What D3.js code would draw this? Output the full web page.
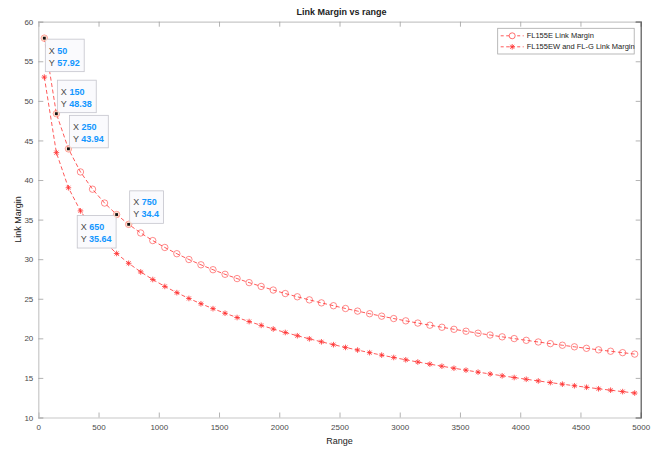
<!DOCTYPE html>
<html>
<head>
<meta charset="utf-8">
<script src="https://cdn.jsdelivr.net/npm/d3@7"></script>
<style>
  body { margin: 0; background: #fff; }
  svg { display: block; font-family: 'Liberation Sans', Arial, sans-serif; }
</style>
</head>
<body>
<svg></svg>
<script>
const SVG_WIDTH = 657;
const SVG_HEIGHT = 449;

// Range values (x) shared by both series.
const ranges = [
  50, 150, 250, 350, 450, 550, 650, 750, 850, 950,
  1050, 1150, 1250, 1350, 1450, 1550, 1650, 1750, 1850, 1950,
  2050, 2150, 2250, 2350, 2450, 2550, 2650, 2750, 2850, 2950,
  3050, 3150, 3250, 3350, 3450, 3550, 3650, 3750, 3850, 3950,
  4050, 4150, 4250, 4350, 4450, 4550, 4650, 4750, 4850, 4950
];

const fl155e = [
  57.92, 48.38, 43.94, 41.02, 38.84, 37.09, 35.64, 34.4, 33.31, 32.35,
  31.48, 30.69, 29.96, 29.29, 28.67, 28.09, 27.55, 27.04, 26.56, 26.10,
  25.66, 25.25, 24.86, 24.48, 24.12, 23.77, 23.44, 23.11, 22.80, 22.50,
  22.21, 21.93, 21.66, 21.40, 21.14, 20.90, 20.65, 20.42, 20.19, 19.97,
  19.75, 19.54, 19.33, 19.13, 18.93, 18.74, 18.55, 18.37, 18.19, 18.01
];

const fl155ewG = [
  53.00, 43.46, 39.02, 36.10, 33.92, 32.17, 30.72, 29.48, 28.39, 27.43,
  26.56, 25.77, 25.04, 24.37, 23.75, 23.17, 22.63, 22.12, 21.64, 21.18,
  20.74, 20.33, 19.94, 19.56, 19.20, 18.85, 18.52, 18.19, 17.88, 17.58,
  17.29, 17.01, 16.74, 16.48, 16.22, 15.98, 15.73, 15.50, 15.27, 15.05,
  14.83, 14.62, 14.41, 14.21, 14.01, 13.82, 13.63, 13.45, 13.27, 13.09
];

const seriesNames = ['FL155E Link Margin', 'FL155EW and FL-G Link Margin'];

const xTicks = [0, 500, 1000, 1500, 2000, 2500, 3000, 3500, 4000, 4500, 5000];
const yTicks = [10, 15, 20, 25, 30, 35, 40, 45, 50, 55, 60];

// Data tips shown on the FL155E curve.
const tipRanges = [50, 150, 250, 650, 750];

const margin = {top: 21.7, right: 16.3, bottom: 31.5, left: 38.3};
const innerW = SVG_WIDTH - margin.left - margin.right;
const innerH = SVG_HEIGHT - margin.top - margin.bottom;

const RED = '#ff3030';
const AXIS = '#c8c8c8';
const TEXT = '#4a4a4a';

const svg = d3
  .select('svg')
  .attr('width', SVG_WIDTH)
  .attr('height', SVG_HEIGHT)
  .attr('viewBox', `0 0 ${SVG_WIDTH} ${SVG_HEIGHT}`);

const x = d3.scaleLinear().domain([0, 5000]).range([margin.left, margin.left + innerW]);
const y = d3.scaleLinear().domain([10, 60]).range([margin.top + innerH, margin.top]);

// Axes: ticks point inward like MATLAB.
const bottomAxis = svg.append('g')
  .attr('transform', `translate(0,${y(10)})`)
  .call(d3.axisBottom(x).tickValues(xTicks).tickSize(-5).tickPadding(7).tickFormat(d3.format('d')));
const topAxis = svg.append('g')
  .attr('transform', `translate(0,${y(60)})`)
  .call(d3.axisTop(x).tickValues(xTicks).tickSize(-5).tickFormat(''));
const leftAxis = svg.append('g')
  .attr('transform', `translate(${x(0)},0)`)
  .call(d3.axisLeft(y).tickValues(yTicks).tickSize(-5).tickPadding(5));
const rightAxis = svg.append('g')
  .attr('transform', `translate(${x(5000)},0)`)
  .call(d3.axisRight(y).tickValues(yTicks).tickSize(-5).tickFormat(''));

[bottomAxis, topAxis, leftAxis, rightAxis].forEach(g => {
  g.select('.domain').attr('stroke', AXIS).attr('stroke-width', 1.2);
  g.selectAll('.tick line').attr('stroke', '#a0a0a0').attr('stroke-width', 0.8);
  g.selectAll('.tick text').attr('fill', TEXT).style('font-size', '8px');
});
rightAxis.select('.domain').attr('stroke', '#555');

// Titles.
svg.append('text')
  .attr('x', (x(0) + x(5000)) / 2 + 2)
  .attr('y', 15)
  .attr('text-anchor', 'middle')
  .style('font-size', '9px')
  .style('font-weight', 'bold')
  .attr('fill', '#222')
  .text('Link Margin vs range');

svg.append('text')
  .attr('x', (x(0) + x(5000)) / 2)
  .attr('y', 444)
  .attr('text-anchor', 'middle')
  .style('font-size', '9px')
  .attr('fill', '#222')
  .text('Range');

svg.append('text')
  .attr('transform', `translate(18,${(y(10) + y(60)) / 2}) rotate(-90)`)
  .attr('text-anchor', 'middle')
  .attr('dy', '0.35em')
  .style('font-size', '9px')
  .attr('fill', '#222')
  .text('Link Margin');

const starPath = s => {
  const d = s * 0.72;
  return `M0,${-s}L0,${s}M${-s},0L${s},0M${-d},${-d}L${d},${d}M${-d},${d}L${d},${-d}`;
};

const line = d3.line().x(d => x(d[0])).y(d => y(d[1]));
const plot = svg.append('g');

function drawSeries(values, marker) {
  const pts = ranges.map((r, i) => [r, values[i]]);
  plot.append('path')
    .datum(pts)
    .attr('d', line)
    .attr('fill', 'none')
    .attr('stroke', RED)
    .attr('stroke-width', 0.8)
    .attr('stroke-dasharray', '4,2.5');
  const g = plot.append('g');
  if (marker === 'circle') {
    g.selectAll('circle')
      .data(pts)
      .join('circle')
      .attr('cx', d => x(d[0]))
      .attr('cy', d => y(d[1]))
      .attr('r', 3.2)
      .attr('fill', 'none')
      .attr('stroke', RED)
      .attr('stroke-opacity', 0.8)
      .attr('stroke-width', 0.7);
  } else {
    g.selectAll('path')
      .data(pts)
      .join('path')
      .attr('transform', d => `translate(${x(d[0])},${y(d[1])})`)
      .attr('d', starPath(2.8))
      .attr('stroke', RED)
      .attr('stroke-width', 0.8);
  }
}

drawSeries(fl155e, 'circle');
drawSeries(fl155ewG, 'star');

// Legend.
const legend = svg.append('g').attr('transform', 'translate(497.7,28.3)');
legend.append('rect')
  .attr('width', 136.5)
  .attr('height', 25.7)
  .attr('fill', '#fff')
  .attr('stroke', '#a8a8a8')
  .attr('stroke-width', 0.8);
seriesNames.forEach((name, i) => {
  const row = legend.append('g').attr('transform', `translate(0,${7.5 + i * 11})`);
  row.append('line')
    .attr('x1', 3).attr('x2', 26)
    .attr('stroke', RED).attr('stroke-width', 0.8)
    .attr('stroke-dasharray', '3,2.5');
  if (i === 0) {
    row.append('circle').attr('cx', 14.5).attr('r', 3)
      .attr('fill', '#fff').attr('stroke', RED).attr('stroke-width', 0.7);
  } else {
    row.append('path').attr('transform', 'translate(14.5,0)')
      .attr('d', starPath(2.8)).attr('stroke', RED).attr('stroke-width', 0.8);
  }
  row.append('text')
    .attr('x', 29)
    .attr('dy', '0.35em')
    .style('font-size', '7.5px')
    .attr('fill', '#222')
    .text(name);
});

// Data tips: side placement per tip (dx, dy sign).
const tipPlacement = {50: [1, 1], 150: [1, -1], 250: [1, -1], 650: [-1, 1], 750: [1, -1]};
const tips = svg.append('g');
tipRanges.forEach(r => {
  const v = fl155e[ranges.indexOf(r)];
  const px = x(r);
  const py = y(v);
  const [sx, sy] = tipPlacement[r];
  const g = tips.append('g');
  const box = g.append('rect')
    .attr('fill', '#fafafd')
    .attr('stroke', '#c4c4cc')
    .attr('stroke-width', 0.8);
  const rows = [['X', String(r)], ['Y', String(v)]];
  const texts = rows.map(([k, val], i) => {
    const t = g.append('text')
      .attr('y', 14.5 + i * 12)
      .style('font-size', '9px');
    t.append('tspan').attr('fill', TEXT).text(k + ' ');
    t.append('tspan').attr('fill', '#1296ff').style('font-weight', 'bold').text(val);
    return t;
  });
  const w = d3.max(texts, t => t.node().getComputedTextLength()) + 8;
  const h = 32.5;
  box.attr('width', w).attr('height', h);
  texts.forEach(t => t.attr('x', 3.5));
  const bx = sx > 0 ? px + 1 : px - w - 0.5;
  const by = sy > 0 ? py + 1 : py - h - 1;
  g.attr('transform', `translate(${bx},${by})`);
  // Highlighted point.
  tips.append('circle')
    .attr('cx', px).attr('cy', py).attr('r', 3.2)
    .attr('fill', '#ffd0b8').attr('fill-opacity', 0.6);
  tips.append('rect')
    .attr('x', px - 1.4).attr('y', py - 1.4)
    .attr('width', 2.8).attr('height', 2.8)
    .attr('fill', '#111');
});
</script>
</body>
</html>
